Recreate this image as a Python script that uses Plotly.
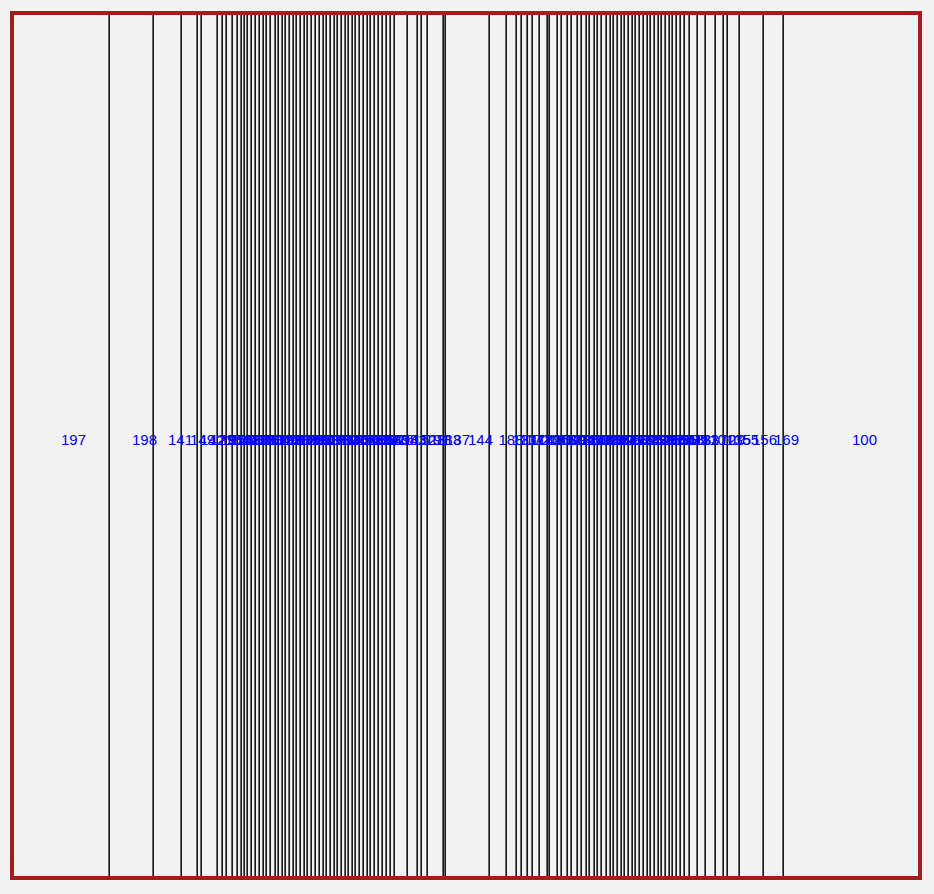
import plotly.graph_objects as go

# strip widths (values) left to right
values = [
    98, 44, 28, 16, 4, 16, 5, 4, 6, 5, 4, 3, 3,
    4, 4, 4, 4, 3, 4, 5, 3, 4, 3, 4, 4, 3, 4, 4, 3, 4, 4, 4, 4,
    3, 4, 4, 3, 4, 4, 3, 4, 3, 4, 4, 4, 3, 4, 4, 4, 4, 4, 4,
    13, 10, 4, 6, 16, 2, 44, 17, 10, 5, 6, 5, 7, 8, 2, 8, 4, 6, 4, 6, 4, 5, 3, 5, 3, 4, 5,
    4, 3, 4, 4, 3, 4, 4, 3, 4, 4, 4, 3, 4, 4, 3, 4, 4, 3, 4, 4, 4, 5,
    8, 8, 10, 8, 4, 12, 24, 20, 136,
]

labels = [
    "197", "198", "141", "149", "142", "129", "195", "154", "116", "108", "163", "127", "182",
    "120", "175", "133", "161", "104", "179", "146", "112", "190", "138", "157", "103", "171",
    "125", "166", "118", "184", "150", "107", "136", "173", "121", "160", "113", "192", "145",
    "105", "168", "130", "178", "115", "153", "186", "124", "164", "101", "139", "176", "158",
    "143", "151", "128", "191", "183", "187", "144", "188", "131", "137", "172", "114", "189",
    "126", "165", "109", "180", "122", "194", "135", "111", "169", "148", "102", "174", "119", "156",
    "132", "181", "106", "147", "193", "117", "162", "134", "185", "123", "152", "199", "140",
    "170", "196", "159", "177", "155", "167", "148", "185", "113",
    "183", "110", "170", "129", "135", "155", "156", "169", "100",
]

starts = []
acc = 0
for v in values:
    starts.append(acc)
    acc += v
total = acc
centers = [s + v / 2 for s, v in zip(starts, values)]

fig = go.Figure()
fig.add_trace(go.Bar(
    x=centers, y=[1] * len(values), width=values, base=0,
    marker=dict(color="#f2f2f2", line=dict(color="#1a1a1a", width=1.4)),
    hoverinfo="skip", showlegend=False,
))
fig.add_trace(go.Scatter(
    x=centers, y=[0.505] * len(values), mode="text", text=labels,
    textposition="middle right",
    textfont=dict(color="#0000ff", size=15, family="Liberation Sans, Arial, sans-serif"),
    hoverinfo="skip", showlegend=False, cliponaxis=False,
))
fig.update_layout(
    width=934, height=894,
    margin=dict(l=12, r=14, t=13, b=16),
    paper_bgcolor="#f2f2f2", plot_bgcolor="#f2f2f2",
    bargap=0,
    xaxis=dict(range=[0, total], visible=False, fixedrange=True),
    yaxis=dict(range=[0, 1], visible=False, fixedrange=True),
    shapes=[dict(type="rect", xref="paper", yref="paper", x0=0, x1=1, y0=0, y1=1,
                 line=dict(color="#a51c1c", width=4), layer="above")],
)
fig.write_html("out.html")
